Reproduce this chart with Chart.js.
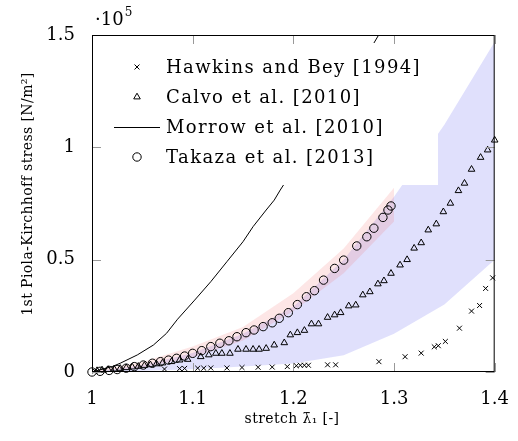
<!DOCTYPE html>
<html>
<head>
<meta charset="utf-8">
<script src="https://cdn.jsdelivr.net/npm/chart.js@4.4.1/dist/chart.umd.min.js"></script>
<style>
  html, body { margin: 0; padding: 0; background: #fff; }
  #wrap { width: 518px; height: 441px; position: relative; }
</style>
</head>
<body>
<div id="wrap"><canvas id="c"></canvas></div>
<script>
// ─── Data (stress in units of 1e5 N/m²) ──────────────────────────────────────
var X_TICKS = [1, 1.1, 1.2, 1.3, 1.4];
var Y_TICKS = [0, 0.5, 1, 1.5];

var hawkinsX = [1.003, 1.012, 1.072, 1.087, 1.092, 1.105, 1.111, 1.118, 1.134, 1.149, 1.165, 1.179, 1.194,
                1.203, 1.207, 1.211, 1.215, 1.234, 1.242, 1.285, 1.311, 1.327, 1.340, 1.344, 1.351,
                1.365, 1.377, 1.385, 1.391, 1.398];
var hawkinsY = [0.004, 0.007, 0.013, 0.015, 0.016, 0.017, 0.017, 0.018, 0.018, 0.020, 0.021, 0.022, 0.024,
                0.028, 0.030, 0.030, 0.030, 0.032, 0.032, 0.046, 0.068, 0.084, 0.112, 0.117, 0.136,
                0.195, 0.271, 0.296, 0.372, 0.419];

var calvoX = [1.005, 1.010, 1.016, 1.022, 1.028, 1.034, 1.040, 1.046, 1.052, 1.058, 1.064, 1.070, 1.079,
              1.087, 1.095, 1.108, 1.116, 1.123, 1.129, 1.137, 1.145, 1.153, 1.160, 1.166, 1.173, 1.181,
              1.191, 1.197, 1.204, 1.211, 1.218, 1.225, 1.234, 1.241, 1.247, 1.255, 1.262, 1.269, 1.276,
              1.284, 1.290, 1.297, 1.306, 1.313, 1.320, 1.327, 1.334, 1.342, 1.349, 1.356, 1.364, 1.370,
              1.377, 1.386, 1.393, 1.400];
var calvoY = [0.006, 0.009, 0.011, 0.013, 0.016, 0.019, 0.022, 0.025, 0.029, 0.032, 0.036, 0.040, 0.046,
              0.053, 0.056, 0.068, 0.076, 0.083, 0.083, 0.083, 0.101, 0.101, 0.101, 0.101, 0.105, 0.120,
              0.130, 0.165, 0.175, 0.185, 0.214, 0.214, 0.243, 0.254, 0.264, 0.294, 0.298, 0.343, 0.357,
              0.392, 0.406, 0.439, 0.476, 0.500, 0.551, 0.575, 0.632, 0.659, 0.713, 0.751, 0.807, 0.840,
              0.902, 0.955, 0.988, 1.032];

var morrowX = [1.000, 1.010, 1.020, 1.028, 1.045, 1.061, 1.074, 1.085, 1.102, 1.118, 1.134, 1.150, 1.160,
               1.173, 1.181, 1.187, 1.200, 1.220, 1.240, 1.260, 1.280, 1.290];
var morrowY = [0.000, 0.012, 0.024, 0.039, 0.076, 0.120, 0.172, 0.235, 0.320, 0.402, 0.491, 0.580, 0.647,
               0.721, 0.765, 0.810, 0.900, 1.040, 1.180, 1.320, 1.464, 1.540];

var takazaX = [1.000, 1.008, 1.017, 1.025, 1.034, 1.042, 1.051, 1.060, 1.068, 1.076, 1.084, 1.092, 1.100,
               1.109, 1.118, 1.127, 1.136, 1.144, 1.153, 1.161, 1.170, 1.179, 1.186, 1.195, 1.204, 1.213,
               1.221, 1.230, 1.241, 1.250, 1.263, 1.273, 1.280, 1.289, 1.294, 1.297];
var takazaY = [0.000, 0.003, 0.007, 0.011, 0.017, 0.024, 0.031, 0.039, 0.046, 0.053, 0.061, 0.071, 0.083,
               0.095, 0.113, 0.128, 0.139, 0.157, 0.175, 0.187, 0.202, 0.219, 0.239, 0.264, 0.300, 0.335,
               0.362, 0.409, 0.461, 0.498, 0.561, 0.602, 0.640, 0.688, 0.721, 0.739];

// shaded ranges
var blueX     = [1.00, 1.05, 1.10, 1.15, 1.20, 1.25, 1.30, 1.35, 1.40];
var blueUpper = [0.00, 0.03, 0.085, 0.17, 0.29, 0.50, 0.78, 1.10, 1.47];
var blueLower = [0.00, 0.006, 0.012, 0.024, 0.038, 0.075, 0.17, 0.30, 0.50];

var redX     = [1.00, 1.05, 1.10, 1.15, 1.20, 1.25, 1.30];
var redUpper = [0.005, 0.045, 0.113, 0.20, 0.35, 0.55, 0.82];
var redLower = [0.000, 0.020, 0.065, 0.14, 0.27, 0.44, 0.67];

function pts(xs, ys) {
  return xs.map(function(x, i) { return { x: x, y: ys[i] }; });
}

var SERIF = '"DejaVu Serif", "Liberation Serif", serif';
var BLUE_FILL = 'rgba(100,100,240,0.2)';
var RED_FILL  = 'rgba(240,90,90,0.15)';

// ─── Overlay: legend box, inward ticks, frame, exponent and axis titles ─────
var overlayPlugin = {
  id: 'overlay',
  afterDatasetsDraw: function(chart) {
    var ctx = chart.ctx;
    var area = chart.chartArea;
    var xs = chart.scales.x, ys = chart.scales.y;

    // legend
    ctx.save();
    ctx.fillStyle = '#fff';
    ctx.fillRect(100, 43, 338, 142);
    var entries = [
      { label: 'Hawkins and Bey [1994]', style: 'crossRot', r: 3.5 },
      { label: 'Calvo et al. [2010]',    style: 'triangle', r: 3.8 },
      { label: 'Morrow et al. [2010]',   style: 'line' },
      { label: 'Takaza et al. [2013]',   style: 'circle',   r: 4.2 }
    ];
    ctx.font = '18px ' + SERIF;
    ctx.letterSpacing = '1.4px';
    ctx.textBaseline = 'middle';
    ctx.textAlign = 'left';
    entries.forEach(function(e, i) {
      var y = 67 + i * 30;
      ctx.strokeStyle = '#000';
      ctx.lineWidth = 1;
      if (e.style === 'line') {
        ctx.beginPath();
        ctx.moveTo(114, y + 0.5);
        ctx.lineTo(160, y + 0.5);
        ctx.stroke();
      } else {
        ctx.fillStyle = 'rgba(0,0,0,0)';
        Chart.helpers.drawPoint(ctx, { pointStyle: e.style, radius: e.r, rotation: 0, borderWidth: 1 }, 137, y);
      }
      ctx.fillStyle = '#000';
      ctx.fillText(e.label, 166, y + 1);
    });
    ctx.restore();

    // inward ticks
    ctx.save();
    ctx.strokeStyle = '#999';
    ctx.lineWidth = 1;
    ctx.beginPath();
    X_TICKS.forEach(function(v) {
      var px = Math.round(xs.getPixelForValue(v)) + 0.5;
      ctx.moveTo(px, area.bottom); ctx.lineTo(px, area.bottom - 9);
      ctx.moveTo(px, area.top);    ctx.lineTo(px, area.top + 9);
    });
    Y_TICKS.forEach(function(v) {
      var py = Math.round(ys.getPixelForValue(v)) + 0.5;
      ctx.moveTo(area.left, py);  ctx.lineTo(area.left + 9, py);
      ctx.moveTo(area.right, py); ctx.lineTo(area.right - 9, py);
    });
    ctx.stroke();
    ctx.restore();

    // frame
    ctx.save();
    ctx.strokeStyle = '#000';
    ctx.lineWidth = 1;
    ctx.strokeRect(area.left + 0.5, area.top + 0.5, area.right - area.left - 1, area.bottom - area.top - 1);
    ctx.restore();
  },
  afterDraw: function(chart) {
    var ctx = chart.ctx;
    ctx.save();
    ctx.fillStyle = '#000';
    ctx.textBaseline = 'alphabetic';
    ctx.textAlign = 'left';
    // ·10^5
    ctx.font = '18px ' + SERIF;
    var w = ctx.measureText('\u00b710').width;
    ctx.fillText('\u00b710', 95, 25);
    ctx.font = '12px ' + SERIF;
    ctx.fillText('5', 95 + w + 1, 16);

    // axis titles
    ctx.font = '14px ' + SERIF;
    ctx.letterSpacing = '0.4px';
    ctx.textAlign = 'center';
    ctx.textBaseline = 'middle';
    ctx.fillText('stretch \u03bb\u0304\u2081 [-]', 292, 419);
    ctx.translate(28, 194);
    ctx.rotate(-Math.PI / 2);
    ctx.fillText('1st Piola-Kirchhoff stress [N/m\u00b2]', 0, 0);
    ctx.restore();
  }
};

function fmt(v) { return String(Number(v.toFixed(1))); }

new Chart(document.getElementById('c').getContext('2d'), {
  type: 'scatter',
  plugins: [overlayPlugin],
  data: {
    datasets: [
      { type: 'line', label: 'blue lower', data: pts(blueX, blueLower), borderWidth: 0, pointRadius: 0, fill: false, order: 10 },
      { type: 'line', label: 'blue upper', data: pts(blueX, blueUpper), borderWidth: 0, pointRadius: 0, fill: '-1', backgroundColor: BLUE_FILL, order: 9 },
      { type: 'line', label: 'red lower', data: pts(redX, redLower), borderWidth: 0, pointRadius: 0, fill: false, order: 8 },
      { type: 'line', label: 'red upper', data: pts(redX, redUpper), borderWidth: 0, pointRadius: 0, fill: '-1', backgroundColor: RED_FILL, order: 7 },
      { type: 'line', label: 'Morrow et al. [2010]', data: pts(morrowX, morrowY), borderColor: '#000', borderWidth: 1, pointRadius: 0, fill: false, tension: 0, order: 4 },
      { label: 'Hawkins and Bey [1994]', data: pts(hawkinsX, hawkinsY), pointStyle: 'crossRot', pointRadius: 3.5, borderColor: '#000', borderWidth: 1, clip: false, order: 3 },
      { label: 'Calvo et al. [2010]', data: pts(calvoX, calvoY), pointStyle: 'triangle', pointRadius: 3.8, borderColor: '#000', backgroundColor: 'transparent', borderWidth: 1, clip: false, order: 2 },
      { label: 'Takaza et al. [2013]', data: pts(takazaX, takazaY), pointStyle: 'circle', pointRadius: 4.2, borderColor: '#000', backgroundColor: 'transparent', borderWidth: 1, clip: false, order: 1 }
    ]
  },
  options: {
    responsive: true,
    maintainAspectRatio: false,
    animation: false,
    events: [],
    layout: { padding: { left: 0, right: 14, top: 35, bottom: 0 } },
    plugins: {
      legend: { display: false },
      tooltip: { enabled: false },
      filler: { propagate: false }
    },
    scales: {
      x: {
        type: 'linear',
        min: 1, max: 1.4,
        afterFit: function(s) { s.height = 69; },
        afterBuildTicks: function(s) { s.ticks = X_TICKS.map(function(v) { return { value: v }; }); },
        ticks: {
          padding: 9, maxRotation: 0, autoSkip: false,
          color: '#000', font: { family: SERIF, size: 18 },
          callback: function(v) { return fmt(v); }
        },
        grid: { display: false },
        border: { display: false }
      },
      y: {
        type: 'linear',
        min: 0, max: 1.5,
        afterFit: function(s) { s.width = 92; },
        afterBuildTicks: function(s) { s.ticks = Y_TICKS.map(function(v) { return { value: v }; }); },
        ticks: {
          padding: 9, autoSkip: false,
          color: '#000', font: { family: SERIF, size: 18 },
          callback: function(v) { return fmt(v); }
        },
        grid: { display: false },
        border: { display: false }
      }
    }
  }
});
</script>
</body>
</html>
